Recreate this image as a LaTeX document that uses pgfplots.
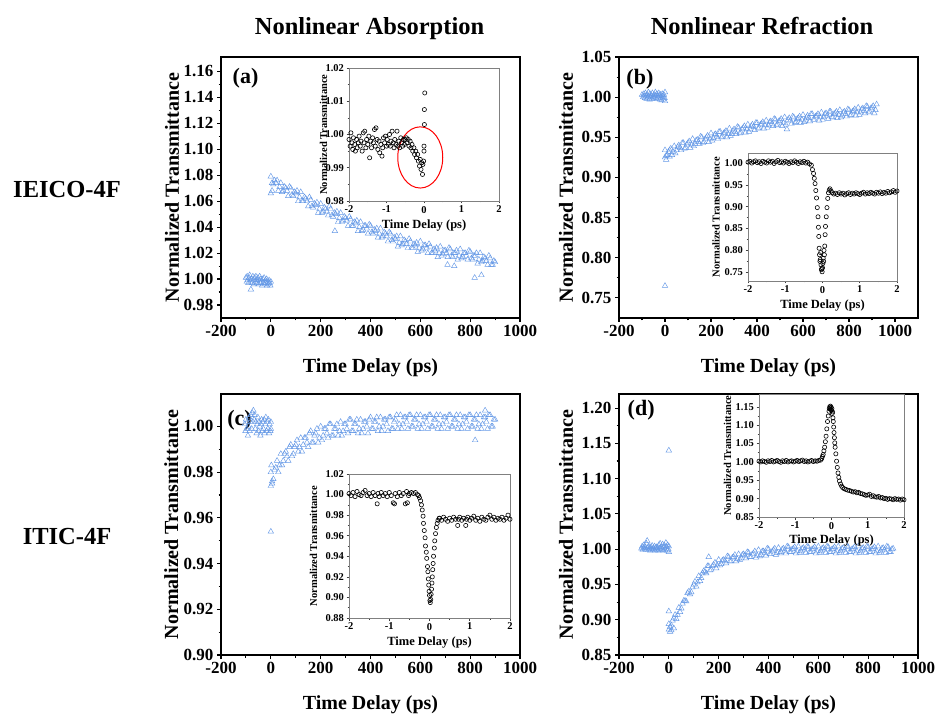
\documentclass[border=0pt]{standalone}
\usepackage{pgfplots}
\pgfplotsset{compat=1.18}
\usepackage{pgfplotstable}
\usepackage{fontspec}
\setmainfont{Liberation Serif}

\definecolor{triblue}{RGB}{100,152,230}

% ---------- main panels: picosecond scans ----------
\pgfplotstableread{
x y
-100 1.001
-97 0.998
-95 1.002
-92 0.999
-90 0.997
-87 1.001
-85 1.003
-82 0.998
-80 0.992
-78 1.000
-75 0.997
-72 1.002
-70 0.999
-67 0.996
-65 1.001
-62 0.998
-60 1.002
-57 0.997
-55 0.999
-52 1.001
-50 0.996
-47 0.999
-45 1.002
-42 0.997
-40 1.000
-37 0.998
-35 0.995
-32 1.000
-30 0.997
-27 1.001
-25 0.996
-22 0.999
-20 0.997
-17 1.000
-15 0.995
-12 0.998
-10 0.996
-7 0.999
-5 0.997
-2 0.995
0 0.998
0 1.079
0 1.066
5 1.068
10 1.073
20 1.074
30 1.068
40 1.074
50 1.068
60 1.070
70 1.064
80 1.070
90 1.064
100 1.066
110 1.060
120 1.067
130 1.060
140 1.062
150 1.056
160 1.061
170 1.055
180 1.057
190 1.051
200 1.058
210 1.052
220 1.054
230 1.049
240 1.054
250 1.048
257 1.037
260 1.050
270 1.044
280 1.051
290 1.045
300 1.047
310 1.041
320 1.046
330 1.041
340 1.043
350 1.037
360 1.044
370 1.038
380 1.041
390 1.035
400 1.041
410 1.035
420 1.037
430 1.032
440 1.039
450 1.033
460 1.035
470 1.029
480 1.035
490 1.029
500 1.031
510 1.025
520 1.033
530 1.027
540 1.029
550 1.024
560 1.029
570 1.024
580 1.026
590 1.021
600 1.029
610 1.023
620 1.026
630 1.020
640 1.025
650 1.020
660 1.022
670 1.017
680 1.025
690 1.019
700 1.022
709 1.011
710 1.017
720 1.023
730 1.017
736 1.010
740 1.020
750 1.015
760 1.023
770 1.017
780 1.020
790 1.015
800 1.021
810 1.015
818 1.001
820 1.018
830 1.012
840 1.020
845 1.003
850 1.014
860 1.016
870 1.011
880 1.016
890 1.011
900 1.013
5 1.074
15 1.076
25 1.076
35 1.071
45 1.067
55 1.071
65 1.068
75 1.071
85 1.065
95 1.067
105 1.068
115 1.063
125 1.060
135 1.063
145 1.060
155 1.063
165 1.056
175 1.058
185 1.059
195 1.054
205 1.051
215 1.055
225 1.052
235 1.056
245 1.049
255 1.051
265 1.052
275 1.047
285 1.044
295 1.048
305 1.045
315 1.048
325 1.041
335 1.044
345 1.045
355 1.040
365 1.037
375 1.041
385 1.039
395 1.042
405 1.036
415 1.038
425 1.039
435 1.035
445 1.032
455 1.036
465 1.033
475 1.036
485 1.030
495 1.032
505 1.033
515 1.028
525 1.026
535 1.030
545 1.027
555 1.031
565 1.024
575 1.027
585 1.028
595 1.024
605 1.022
615 1.026
625 1.024
635 1.027
645 1.020
655 1.023
665 1.024
675 1.020
685 1.018
695 1.022
705 1.020
715 1.024
725 1.018
735 1.020
745 1.022
755 1.018
765 1.016
775 1.020
785 1.018
795 1.022
805 1.016
815 1.018
825 1.020
835 1.015
845 1.013
855 1.017
865 1.014
875 1.018
885 1.011
895 1.014
}\dataA

\pgfplotstableread{
x y
-100 1.003
-95 1.000
-92 1.004
-90 1.001
-87 0.999
-85 1.005
-82 1.002
-80 0.998
-77 1.003
-75 1.000
-72 1.006
-70 1.001
-67 0.997
-65 1.004
-62 1.000
-60 1.002
-57 0.998
-55 1.005
-52 1.001
-50 0.999
-47 1.003
-45 1.000
-42 1.006
-40 1.002
-37 0.998
-35 1.004
-32 1.001
-30 0.999
-27 1.005
-25 1.002
-22 0.997
-20 1.003
-17 1.000
-15 0.996
-12 1.004
-10 1.001
-7 0.997
-5 1.003
-2 0.999
0 0.995
0 1.006
0 0.765
0 0.934
0 0.925
5 0.922
10 0.928
20 0.934
20 0.926
30 0.928
40 0.939
50 0.934
60 0.940
70 0.934
80 0.943
90 0.937
100 0.943
110 0.937
120 0.948
130 0.942
140 0.947
150 0.942
160 0.950
170 0.944
180 0.950
190 0.944
200 0.955
210 0.949
220 0.954
230 0.948
240 0.957
250 0.951
260 0.956
270 0.950
280 0.961
290 0.954
300 0.960
310 0.954
320 0.962
330 0.956
340 0.962
350 0.956
360 0.966
370 0.960
380 0.966
390 0.959
400 0.968
410 0.962
420 0.967
430 0.961
440 0.971
450 0.965
460 0.970
470 0.964
480 0.972
490 0.966
500 0.971
510 0.964
520 0.975
530 0.960
540 0.974
550 0.967
560 0.975
570 0.969
580 0.974
590 0.968
600 0.978
610 0.971
620 0.977
630 0.970
640 0.979
650 0.972
660 0.977
670 0.971
680 0.981
690 0.975
700 0.980
710 0.973
720 0.982
730 0.975
740 0.980
750 0.974
760 0.984
770 0.977
780 0.982
790 0.976
800 0.984
810 0.978
820 0.983
830 0.977
840 0.987
850 0.981
860 0.986
870 0.980
880 0.988
890 0.982
900 0.987
910 0.980
920 0.991
5 0.927
15 0.932
25 0.936
35 0.932
45 0.930
55 0.938
65 0.937
75 0.943
85 0.936
95 0.941
105 0.945
115 0.941
125 0.939
135 0.946
145 0.944
155 0.951
165 0.943
175 0.948
185 0.952
195 0.948
205 0.946
215 0.953
225 0.951
235 0.957
245 0.950
255 0.955
265 0.958
275 0.954
285 0.952
295 0.958
305 0.957
315 0.963
325 0.955
335 0.960
345 0.964
355 0.960
365 0.957
375 0.964
385 0.963
395 0.968
405 0.961
415 0.966
425 0.969
435 0.965
445 0.962
455 0.969
465 0.967
475 0.973
485 0.965
495 0.970
505 0.973
515 0.968
525 0.966
535 0.972
545 0.971
555 0.976
565 0.968
575 0.973
585 0.976
595 0.972
605 0.969
615 0.975
625 0.974
635 0.979
645 0.972
655 0.976
665 0.979
675 0.975
685 0.972
695 0.979
705 0.977
715 0.982
725 0.975
735 0.979
745 0.982
755 0.978
765 0.975
775 0.981
785 0.979
795 0.985
805 0.977
815 0.982
825 0.985
835 0.981
845 0.978
855 0.985
865 0.983
875 0.989
885 0.981
895 0.986
905 0.989
915 0.984
}\dataB

\pgfplotstableread{
x y
-105 1.001
-102 0.998
-100 1.003
-97 0.999
-95 1.002
-92 0.996
-90 1.000
-87 1.004
-85 0.998
-82 1.002
-80 1.005
-77 0.999
-75 1.006
-72 1.002
-70 1.007
-67 1.003
-65 1.005
-62 0.999
-60 1.002
-57 0.997
-55 1.001
-52 1.004
-50 0.998
-47 1.002
-45 1.000
-42 0.996
-40 1.001
-37 1.003
-35 0.998
-32 1.002
-30 0.999
-27 1.003
-25 0.997
-22 1.001
-20 1.004
-17 0.998
-15 1.002
-12 0.999
-10 1.003
-7 0.997
-5 1.001
-2 0.998
0 1.002
0 0.999
0 0.954
0 0.974
0 0.980
2 0.983
5 0.975
10 0.977
20 0.982
30 0.980
40 0.988
50 0.985
60 0.989
70 0.985
80 0.992
90 0.988
100 0.992
110 0.989
120 0.995
130 0.992
140 0.995
150 0.991
160 0.998
170 0.993
180 0.997
190 0.993
200 1.000
210 0.996
220 0.999
230 0.995
240 1.001
250 0.996
260 0.999
270 0.996
280 1.002
290 0.998
300 1.001
310 0.997
320 1.003
330 0.998
340 1.001
350 0.997
360 1.003
370 0.999
380 1.002
390 0.997
400 1.004
410 0.999
420 1.002
430 0.998
440 1.004
450 1.000
460 1.003
470 0.998
480 1.004
490 0.999
500 1.003
510 0.999
520 1.005
530 1.001
540 1.004
550 0.999
560 1.005
570 1.000
580 1.003
590 0.999
600 1.005
610 1.001
620 1.004
630 0.999
640 1.005
650 1.000
660 1.003
670 0.999
680 1.005
690 1.001
700 1.004
710 0.999
720 1.005
730 1.000
740 1.003
750 0.999
760 1.005
770 1.001
780 1.004
790 0.999
800 1.005
810 1.000
820 0.994
820 1.003
830 0.999
840 1.005
850 1.001
860 1.007
860 1.004
870 0.999
880 1.005
890 1.000
900 1.003
5 0.976
15 0.981
25 0.985
35 0.983
45 0.983
55 0.988
65 0.987
75 0.991
85 0.987
95 0.991
105 0.994
115 0.991
125 0.989
135 0.995
145 0.993
155 0.997
165 0.993
175 0.996
185 0.999
195 0.995
205 0.994
215 0.999
225 0.997
235 1.001
245 0.996
255 0.999
265 1.001
275 0.998
285 0.996
295 1.001
305 0.999
315 1.003
325 0.998
335 1.001
345 1.003
355 0.999
365 0.997
375 1.002
385 1.000
395 1.003
405 0.999
415 1.002
425 1.004
435 1.000
445 0.998
455 1.003
465 1.001
475 1.004
485 0.999
495 1.002
505 1.005
515 1.001
525 0.999
535 1.004
545 1.002
555 1.005
565 1.000
575 1.003
585 1.005
595 1.001
605 0.999
615 1.004
625 1.002
635 1.005
645 1.000
655 1.003
665 1.005
675 1.001
685 0.999
695 1.004
705 1.002
715 1.005
725 1.000
735 1.003
745 1.005
755 1.001
765 0.999
775 1.004
785 1.002
795 1.005
805 1.000
815 1.003
825 1.005
835 1.001
845 0.999
855 1.004
865 1.002
875 1.005
885 1.000
895 1.003
}\dataC

\pgfplotstableread{
x y
-110 1.001
-107 1.004
-105 0.999
-102 1.002
-100 1.006
-97 1.000
-95 1.003
-92 0.999
-90 1.008
-87 1.012
-85 1.002
-82 0.999
-80 1.004
-77 1.001
-75 0.998
-72 1.003
-70 1.000
-67 1.005
-65 0.999
-62 1.002
-60 1.000
-57 1.004
-55 0.998
-52 1.001
-50 1.003
-47 0.999
-45 1.002
-42 0.998
-40 1.006
-37 1.001
-35 1.008
-32 0.999
-30 1.003
-27 1.000
-25 1.007
-22 0.998
-20 1.002
-17 1.005
-15 0.999
-12 1.009
-10 1.003
-7 0.998
-5 1.006
-2 1.000
0 0.996
0 1.004
0 1.140
0 0.912
0 0.886
0 0.894
5 0.883
10 0.885
10 0.892
20 0.888
20 0.902
30 0.901
40 0.917
50 0.916
60 0.927
70 0.926
80 0.940
90 0.939
100 0.950
110 0.947
120 0.962
130 0.959
140 0.969
150 0.966
160 0.976
160 0.989
170 0.971
180 0.978
190 0.973
200 0.985
210 0.979
220 0.985
230 0.980
240 0.989
250 0.983
260 0.989
270 0.983
280 0.993
290 0.987
300 0.993
310 0.987
320 0.995
330 0.989
340 0.994
350 0.988
360 0.999
370 0.992
380 0.997
390 0.991
400 1.000
410 0.993
420 0.999
430 0.992
440 1.002
450 0.996
460 1.001
470 0.994
480 1.003
490 0.996
500 1.001
510 0.994
520 1.004
530 0.997
540 1.002
550 0.995
560 1.003
570 0.996
580 1.001
590 0.994
600 1.004
610 0.997
620 1.002
630 0.995
640 1.003
650 0.996
660 1.001
670 0.994
680 1.004
690 0.997
700 1.002
710 0.995
720 1.003
730 0.996
740 1.001
750 0.994
760 1.004
770 0.997
780 1.002
790 0.995
800 1.003
810 0.996
820 1.001
830 0.994
840 1.004
850 0.997
860 1.002
870 0.995
880 1.003
890 0.996
900 1.001
5 0.890
15 0.899
25 0.907
35 0.907
45 0.911
55 0.923
65 0.927
75 0.938
85 0.936
95 0.946
105 0.954
115 0.953
125 0.955
135 0.966
145 0.968
155 0.976
165 0.970
175 0.976
185 0.981
195 0.977
205 0.977
215 0.984
225 0.983
235 0.990
245 0.983
255 0.988
265 0.992
275 0.986
285 0.985
295 0.992
305 0.991
315 0.996
325 0.989
335 0.993
345 0.997
355 0.991
365 0.990
375 0.997
385 0.995
395 1.001
405 0.993
415 0.997
425 1.001
435 0.995
445 0.994
455 1.000
465 0.998
475 1.004
485 0.996
495 1.000
505 1.003
515 0.997
525 0.995
535 1.001
545 0.999
555 1.004
565 0.996
575 1.000
585 1.003
595 0.997
605 0.995
615 1.001
625 0.999
635 1.004
645 0.996
655 1.000
665 1.003
675 0.997
685 0.995
695 1.001
705 0.999
715 1.004
725 0.996
735 1.000
745 1.003
755 0.997
765 0.995
775 1.001
785 0.999
795 1.004
805 0.996
815 1.000
825 1.003
835 0.997
845 0.995
855 1.001
865 0.999
875 1.004
885 0.996
895 1.000
}\dataD

% ---------- insets: femtosecond scans ----------
\pgfplotstableread{
x y
-2.00 0.9985
-1.97 0.9965
-1.95 1.0005
-1.92 0.9975
-1.90 0.9955
-1.88 0.9990
-1.85 0.9970
-1.83 0.9950
-1.80 0.9985
-1.78 0.9960
-1.75 0.9975
-1.73 0.9995
-1.70 0.9965
-1.68 0.9980
-1.65 0.9950
-1.62 1.0005
-1.60 0.9975
-1.58 1.0010
-1.55 0.9960
-1.53 0.9985
-1.50 0.9970
-1.47 0.9995
-1.45 0.9930
-1.42 0.9980
-1.40 0.9960
-1.37 0.9990
-1.35 0.9975
-1.32 1.0015
-1.30 0.9965
-1.28 1.0020
-1.25 0.9985
-1.23 0.9955
-1.20 0.9980
-1.18 0.9945
-1.15 0.9970
-1.12 0.9935
-1.10 0.9960
-1.08 0.9990
-1.05 0.9975
-1.03 0.9995
-1.00 0.9965
-0.98 0.9985
-0.95 0.9970
-0.92 1.0000
-0.90 0.9965
-0.88 0.9980
-0.85 1.0010
-0.82 0.9975
-0.80 0.9960
-0.78 0.9985
-0.75 0.9970
-0.72 1.0010
-0.70 0.9965
-0.67 0.9980
-0.65 0.9960
-0.62 0.9990
-0.60 0.9975
-0.57 0.9965
-0.55 0.9985
-0.52 0.9970
-0.50 0.9985
-0.47 0.9990
-0.45 0.9975
-0.42 0.9985
-0.40 0.9965
-0.37 0.9980
-0.35 0.9960
-0.32 0.9970
-0.30 0.9950
-0.27 0.9960
-0.25 0.9940
-0.22 0.9950
-0.20 0.9930
-0.17 0.9940
-0.15 0.9920
-0.12 0.9905
-0.10 0.9925
-0.08 0.9895
-0.06 0.9915
-0.04 0.9880
-0.03 0.9910
-0.01 0.9920
0.00 0.9965
0.00 0.9950
0.01 1.0030
0.01 1.0075
0.02 1.0125
}\insetA

\pgfplotstableread{
x y
-2.00 1.002
-1.95 1.004
-1.90 1.000
-1.85 1.003
-1.80 1.005
-1.75 1.001
-1.70 1.003
-1.65 0.999
-1.60 1.004
-1.55 1.002
-1.50 1.000
-1.45 1.005
-1.40 1.002
-1.35 1.004
-1.30 0.999
-1.25 1.003
-1.20 1.006
-1.15 1.001
-1.10 1.003
-1.05 1.000
-1.00 1.004
-0.95 1.002
-0.90 0.999
-0.85 1.003
-0.80 1.001
-0.75 1.005
-0.70 1.002
-0.65 0.999
-0.60 1.003
-0.55 1.001
-0.50 1.004
-0.45 1.000
-0.40 1.002
-0.35 0.998
-0.30 0.995
-0.27 0.985
-0.24 0.976
-0.22 0.965
-0.20 0.953
-0.18 0.937
-0.16 0.920
-0.14 0.898
-0.12 0.877
-0.11 0.853
-0.10 0.832
-0.09 0.805
-0.08 0.790
-0.07 0.775
-0.06 0.779
-0.05 0.795
-0.04 0.767
-0.03 0.756
-0.02 0.758
-0.01 0.751
0.00 0.760
0.01 0.770
0.02 0.782
0.03 0.775
0.04 0.800
0.05 0.790
0.06 0.810
0.07 0.836
0.08 0.855
0.10 0.877
0.12 0.898
0.14 0.919
0.16 0.932
0.18 0.938
0.20 0.941
0.23 0.936
0.26 0.932
0.30 0.929
0.35 0.931
0.40 0.928
0.45 0.932
0.50 0.929
0.55 0.931
0.60 0.927
0.65 0.930
0.70 0.932
0.75 0.928
0.80 0.931
0.85 0.929
0.90 0.932
0.95 0.930
1.00 0.928
1.05 0.931
1.10 0.933
1.15 0.929
1.20 0.932
1.25 0.930
1.30 0.933
1.35 0.931
1.40 0.929
1.45 0.933
1.50 0.931
1.55 0.934
1.60 0.930
1.65 0.933
1.70 0.931
1.75 0.935
1.80 0.932
1.85 0.934
1.90 0.937
1.95 0.933
2.00 0.936
}\insetB

\pgfplotstableread{
x y
-2.00 1.001
-1.95 0.999
-1.90 1.002
-1.85 0.998
-1.80 1.003
-1.75 1.000
-1.70 0.999
-1.65 1.002
-1.60 1.004
-1.55 0.999
-1.50 1.001
-1.45 0.998
-1.40 1.002
-1.35 0.999
-1.30 0.991
-1.28 1.001
-1.25 0.998
-1.20 1.002
-1.15 0.999
-1.10 1.001
-1.05 0.998
-1.00 1.002
-0.95 0.999
-0.90 0.992
-0.87 0.991
-0.85 1.001
-0.80 0.998
-0.75 1.002
-0.70 0.999
-0.65 1.001
-0.60 0.991
-0.57 1.003
-0.55 0.992
-0.52 0.999
-0.50 1.001
-0.45 1.002
-0.40 1.001
-0.35 1.002
-0.30 1.000
-0.27 0.999
-0.25 0.997
-0.22 0.994
-0.20 0.990
-0.18 0.985
-0.16 0.979
-0.15 0.972
-0.13 0.965
-0.11 0.958
-0.10 0.950
-0.08 0.944
-0.07 0.938
-0.05 0.930
-0.04 0.925
-0.03 0.918
-0.02 0.912
-0.01 0.906
0.00 0.902
0.01 0.897
0.02 0.895
0.03 0.898
0.04 0.903
0.05 0.908
0.06 0.914
0.07 0.920
0.08 0.927
0.09 0.933
0.10 0.940
0.12 0.948
0.13 0.955
0.15 0.962
0.17 0.968
0.19 0.972
0.21 0.975
0.24 0.977
0.25 0.977
0.30 0.975
0.35 0.978
0.40 0.976
0.45 0.974
0.50 0.977
0.55 0.975
0.60 0.978
0.65 0.976
0.70 0.970
0.72 0.976
0.75 0.978
0.80 0.975
0.85 0.977
0.90 0.970
0.92 0.976
0.95 0.978
1.00 0.975
1.05 0.977
1.10 0.979
1.15 0.975
1.20 0.977
1.25 0.974
1.30 0.978
1.35 0.976
1.40 0.975
1.45 0.978
1.50 0.980
1.55 0.976
1.60 0.978
1.65 0.975
1.70 0.977
1.75 0.976
1.80 0.978
1.85 0.975
1.90 0.977
1.95 0.980
2.00 0.976
}\insetC

\pgfplotstableread{
x y
-2.00 1.002
-1.95 1.000
-1.90 1.003
-1.85 1.001
-1.80 0.999
-1.75 1.003
-1.70 1.001
-1.65 1.004
-1.60 1.000
-1.55 1.002
-1.50 1.004
-1.45 1.001
-1.40 0.999
-1.35 1.003
-1.30 1.001
-1.25 1.004
-1.20 1.000
-1.15 1.002
-1.10 1.003
-1.05 1.000
-1.00 1.002
-0.95 1.004
-0.90 1.001
-0.85 1.003
-0.80 1.005
-0.75 1.001
-0.70 1.003
-0.65 1.000
-0.60 1.002
-0.55 1.004
-0.50 1.001
-0.45 1.003
-0.40 1.002
-0.35 1.004
-0.30 1.005
-0.27 1.009
-0.25 1.015
-0.23 1.020
-0.21 1.030
-0.19 1.040
-0.17 1.055
-0.15 1.070
-0.13 1.090
-0.11 1.110
-0.09 1.125
-0.07 1.138
-0.06 1.145
-0.05 1.150
-0.04 1.147
-0.03 1.152
-0.02 1.143
-0.01 1.149
0.00 1.140
0.01 1.145
0.02 1.132
0.03 1.136
0.04 1.120
0.05 1.110
0.06 1.095
0.07 1.080
0.08 1.066
0.09 1.052
0.10 1.040
0.12 1.022
0.14 1.002
0.16 0.985
0.18 0.970
0.20 0.958
0.22 0.948
0.25 0.940
0.28 0.934
0.31 0.930
0.35 0.927
0.40 0.925
0.45 0.923
0.50 0.922
0.55 0.920
0.60 0.918
0.65 0.919
0.70 0.916
0.75 0.917
0.80 0.914
0.85 0.913
0.90 0.911
0.95 0.909
1.00 0.910
1.05 0.912
1.10 0.906
1.15 0.908
1.20 0.905
1.25 0.904
1.30 0.906
1.35 0.902
1.40 0.903
1.45 0.900
1.50 0.901
1.55 0.898
1.60 0.900
1.65 0.899
1.70 0.897
1.75 0.900
1.80 0.898
1.85 0.899
1.90 0.896
1.95 0.899
2.00 0.897
}\insetD

\pgfplotsset{
  mainax/.style={
    scale only axis, width=299pt, height=261pt,
    axis line style={line width=1.2pt},
    xtick pos=left, ytick pos=left, tick align=outside,
    major tick length=4pt, minor tick length=2.5pt,
    major tick style={black, line width=1.1pt},
    minor tick style={black, line width=1.1pt},
    minor x tick num=1, minor y tick num=1,
    xmin=-200, xmax=1000, xtick={-200,0,200,400,600,800,1000},
    /pgf/number format/assume math mode=true,
    /pgf/number format/1000 sep={},
    tick label style={font=\fontsize{17}{17}\selectfont\bfseries},
    y tick label style={/pgf/number format/fixed,
      /pgf/number format/fixed zerofill, /pgf/number format/precision=2},
    xlabel={Time Delay (ps)}, ylabel={Normalized Transmittance},
    label style={font=\fontsize{20}{20}\selectfont\bfseries},
    xlabel style={at={(axis description cs:0.5,-0.19)}, anchor=center},
  },
  inax/.style={
    scale only axis,
    axis line style={gray, line width=0.6pt},
    xtick pos=left, ytick pos=left, tick align=outside,
    major tick length=2.5pt, minor tick length=1.5pt,
    major tick style={black!75, line width=0.6pt},
    minor tick style={black!75, line width=0.6pt},
    minor x tick num=1, minor y tick num=1,
    xmin=-2, xmax=2, xtick={-2,-1,0,1,2},
    /pgf/number format/assume math mode=true,
    tick label style={font=\fontsize{10.5}{10.5}\selectfont\bfseries},
    x tick label style={yshift=1pt},
    y tick label style={xshift=1pt, /pgf/number format/fixed,
      /pgf/number format/fixed zerofill, /pgf/number format/precision=2},
    xlabel={Time Delay (ps)}, ylabel={Normalized Transmittance},
    xlabel style={font=\fontsize{12.5}{12.5}\selectfont\bfseries},
    ylabel style={font=\fontsize{10.5}{10.5}\selectfont\bfseries},
  },
  tris/.style={only marks, mark=triangle, mark size=3.2pt, color=triblue,
    mark options={line width=0.45pt}},
  circs/.style={only marks, mark=o, mark size=2.1pt, color=black,
    mark options={line width=0.6pt}},
}
\tikzset{plab/.style={font=\fontsize{22}{22}\selectfont\bfseries}}

\begin{document}
\begin{tikzpicture}
\path[use as bounding box] (0pt,0pt) rectangle (936pt,718pt);

\node[font=\fontsize{24.5}{24.5}\selectfont\bfseries, anchor=base] at (369.5pt,683.5pt) {Nonlinear Absorption};
\node[font=\fontsize{24.5}{24.5}\selectfont\bfseries, anchor=base] at (762pt,683.5pt) {Nonlinear Refraction};
\node[font=\fontsize{24.5}{24.5}\selectfont\bfseries, anchor=base] at (67pt,520pt) {IEICO-4F};
\node[font=\fontsize{24.5}{24.5}\selectfont\bfseries, anchor=base] at (67pt,174pt) {ITIC-4F};

% (a)
\begin{axis}[mainax, at={(221pt,400pt)}, anchor=south west,
  ymin=0.97, ymax=1.171,
  ytick={0.98,1.00,1.02,1.04,1.06,1.08,1.10,1.12,1.14,1.16},
  ylabel style={at={(axis description cs:-0.164,0.5)}, anchor=center}]
\addplot[tris] table {\dataA};
\node[plab] at (axis description cs:0.082,0.917) {(a)};
\end{axis}

% (b)
\begin{axis}[mainax, at={(619pt,400pt)}, anchor=south west,
  xmax=1100,
  ymin=0.725, ymax=1.05,
  ytick={0.75,0.80,0.85,0.90,0.95,1.00,1.05},
  ylabel style={at={(axis description cs:-0.177,0.5)}, anchor=center}]
\addplot[tris] table {\dataB};
\node[plab] at (axis description cs:0.070,0.915) {(b)};
\end{axis}

% (c)
\begin{axis}[mainax, at={(221pt,63pt)}, anchor=south west,
  ymin=0.90, ymax=1.0142,
  ytick={0.90,0.92,0.94,0.96,0.98,1.00},
  ylabel style={at={(axis description cs:-0.166,0.5)}, anchor=center}]
\addplot[tris] table {\dataC};
\node[plab] at (axis description cs:0.062,0.9) {(c)};
\end{axis}

% (d)
\begin{axis}[mainax, at={(619pt,63pt)}, anchor=south west,
  ymin=0.85, ymax=1.22,
  ytick={0.85,0.90,0.95,1.00,1.05,1.10,1.15,1.20},
  ylabel style={at={(axis description cs:-0.177,0.5)}, anchor=center}]
\addplot[tris] table {\dataD};
\node[plab] at (axis description cs:0.074,0.939) {(d)};
\end{axis}

% inset (a)
\begin{axis}[inax, at={(349pt,517pt)}, anchor=south west,
  width=150pt, height=133pt,
  ymin=0.98, ymax=1.02, ytick={0.98,0.99,1.00,1.01,1.02},
  xlabel style={at={(axis description cs:0.5,-0.185)}, anchor=center},
  ylabel style={at={(axis description cs:-0.17,0.5)}, anchor=center}]
\addplot[circs] table {\insetA};
\draw[red, line width=1pt] (axis cs:-0.1,0.9931) ellipse [x radius=22.5pt, y radius=30.6pt];
\end{axis}

% inset (b)
\begin{axis}[inax, at={(748pt,437pt)}, anchor=south west,
  width=149pt, height=128pt,
  ymin=0.73, ymax=1.023, ytick={0.75,0.80,0.85,0.90,0.95,1.00},
  xlabel style={at={(axis description cs:0.5,-0.19)}, anchor=center},
  ylabel style={at={(axis description cs:-0.215,0.5)}, anchor=center}]
\addplot[circs] table {\insetB};
\end{axis}

% inset (c)
\begin{axis}[inax, at={(349pt,100pt)}, anchor=south west,
  width=161pt, height=144pt,
  ymin=0.88, ymax=1.02, ytick={0.88,0.90,0.92,0.94,0.96,0.98,1.00,1.02},
  xlabel style={at={(axis description cs:0.5,-0.17)}, anchor=center},
  ylabel style={at={(axis description cs:-0.22,0.5)}, anchor=center}]
\addplot[circs] table {\insetC};
\end{axis}

% inset (d)
\begin{axis}[inax, at={(759pt,201pt)}, anchor=south west,
  width=145pt, height=123pt,
  ymin=0.85, ymax=1.185, ytick={0.85,0.90,0.95,1.00,1.05,1.10,1.15},
  xlabel style={at={(axis description cs:0.5,-0.19)}, anchor=center},
  ylabel style={at={(axis description cs:-0.217,0.5)}, anchor=center}]
\addplot[circs] table {\insetD};
\end{axis}
\end{tikzpicture}
\end{document}
